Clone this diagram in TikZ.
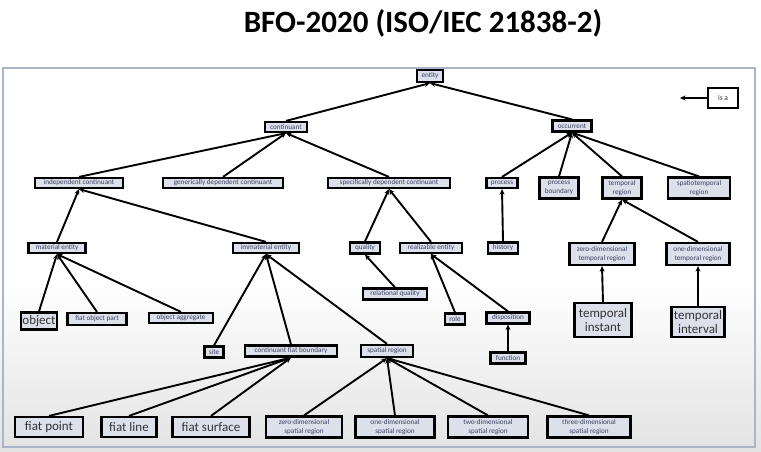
\documentclass[tikz,border=0pt]{standalone}
\usepackage{fontspec}
\setmainfont{Carlito}
\usetikzlibrary{arrows.meta}
\definecolor{boxfill}{HTML}{DCE0EB}
\definecolor{boxtext}{HTML}{3A4160}
\definecolor{framec}{HTML}{A9B5C9}
\tikzset{
  sm/.style={draw=black, line width=2.2pt, fill=boxfill, text=boxtext,
    font=\fontsize{7.2}{8.4}\selectfont, inner xsep=1pt, inner ysep=0.5pt, align=center},
  lg/.style={draw=black, line width=2.2pt, fill=boxfill, text=black!80,
    font=\fontsize{13}{14.5}\selectfont, inner xsep=1pt, inner ysep=0.5pt, align=center},
  isa/.style={draw=black, line width=1.9pt, -{Stealth[length=5.5pt,width=5pt]}},
}
\begin{document}
\begin{tikzpicture}[x=1pt,y=-1pt]
\useasboundingbox (0,0) rectangle (761,451);
\fill[white] (0,0) rectangle (761,451);
\shade[top color=white, bottom color=black!11] (0,280) rectangle (761,451);
\draw[framec, line width=1.5pt] (3,68) rectangle (755,447);
\node[font=\fontsize{31}{34}\bfseries, text=black] (title) at (423,23) {BFO-2020 (ISO/IEC 21838-2)};

% level 0
\node[sm, minimum width=26pt, minimum height=12pt] (entity) at (430,76) {entity};
% legend
\node[draw=black, line width=2.2pt, fill=white, minimum width=30pt, minimum height=20pt,
  font=\fontsize{7.5}{8.5}\selectfont, text=black!80] (legend) at (723,98) {is a};
\coordinate (legtip) at (680,98);
\draw[isa] (legend.west) -- (legtip);

% level 1
\node[sm, minimum width=42pt, minimum height=10pt] (continuant) at (286,127) {continuant};
\node[sm, minimum width=39pt, minimum height=11pt] (occurrent) at (572,126) {occurrent};

% level 2
\node[sm, minimum width=88pt, minimum height=10pt] (indep) at (79,183) {independent continuant};
\node[sm, minimum width=120pt, minimum height=10pt] (gdc) at (223,183) {generically dependent continuant};
\node[sm, minimum width=122pt, minimum height=10pt] (sdc) at (389,183) {specifically dependent continuant};
\node[sm, minimum width=31pt, minimum height=10pt] (process) at (502,183) {process};
\node[sm, minimum width=39pt, minimum height=21pt] (pbound) at (559,188) {process\\boundary};
\node[sm, minimum width=39pt, minimum height=21pt] (treg) at (622,188) {temporal\\region};
\node[sm, minimum width=62pt, minimum height=21pt] (streg) at (699,188) {spatiotemporal\\region};

% level 3
\node[sm, minimum width=57pt, minimum height=10pt] (material) at (57,248) {material entity};
\node[sm, minimum width=66pt, minimum height=10pt] (immaterial) at (266,248) {immaterial entity};
\node[sm, minimum width=30pt, minimum height=11pt] (quality) at (365,248) {quality};
\node[sm, minimum width=62pt, minimum height=10pt] (realizable) at (431,248) {realizable entity};
\node[sm, minimum width=30pt, minimum height=11pt] (history) at (503,248) {history};
\node[sm, minimum width=65pt, minimum height=22pt] (zdtr) at (602,254) {zero-dimensional\\temporal region};
\node[sm, minimum width=63pt, minimum height=22pt] (odtr) at (698,254) {one-dimensional\\temporal region};

% level 4
\node[lg, minimum width=36pt, minimum height=17pt] (object) at (39,321) {object};
\node[sm, minimum width=59pt, minimum height=12pt] (fop) at (97,319) {fiat object part};
\node[sm, minimum width=64pt, minimum height=10pt] (oagg) at (181,318) {object aggregate};
\node[sm, minimum width=64pt, minimum height=11pt] (relq) at (395,294) {relational quality};
\node[sm, minimum width=20pt, minimum height=11pt] (role) at (455,319) {role};
\node[sm, minimum width=43pt, minimum height=11pt] (disp) at (508,318) {disposition};
\node[lg, minimum width=57pt, minimum height=34pt] (tinst) at (603,320) {temporal\\instant};
\node[lg, minimum width=53pt, minimum height=30pt] (tint) at (698,322) {temporal\\interval};

% level 5
\node[sm, minimum width=19pt, minimum height=11pt] (site) at (214,352) {site};
\node[sm, minimum width=92pt, minimum height=11pt] (cfb) at (291,351) {continuant fiat boundary};
\node[sm, minimum width=52pt, minimum height=12pt] (sreg) at (387,351) {spatial region};
\node[sm, minimum width=35pt, minimum height=11pt] (function) at (508,358) {function};

% level 6
\node[lg, minimum width=68pt, minimum height=20pt] (fpoint) at (49,427) {fiat point};
\node[lg, minimum width=55pt, minimum height=20pt] (fline) at (129,427) {fiat line};
\node[lg, minimum width=77pt, minimum height=20pt] (fsurf) at (211,427) {fiat surface};
\node[sm, minimum width=76pt, minimum height=21pt] (zdsr) at (304,427) {zero-dimensional\\spatial region};
\node[sm, minimum width=79pt, minimum height=21pt] (odsr) at (395,427) {one-dimensional\\spatial region};
\node[sm, minimum width=80pt, minimum height=21pt] (twdsr) at (488,427) {two-dimensional\\spatial region};
\node[sm, minimum width=83pt, minimum height=21pt] (thdsr) at (589,427) {three-dimensional\\spatial region};

% edges
\draw[isa] (continuant.north) -- (entity.south);
\draw[isa] (occurrent.north) -- (entity.south);
\draw[isa] (indep.north) -- (continuant.south);
\draw[isa] (gdc.north) -- (continuant.south);
\draw[isa] (sdc.north) -- (continuant.south);
\draw[isa] (process.north) -- (occurrent.south);
\draw[isa] (pbound.north) -- (occurrent.south);
\draw[isa] (treg.north) -- (occurrent.south);
\draw[isa] (streg.north) -- (occurrent.south);
\draw[isa] (material.north) -- (indep.south);
\draw[isa] (immaterial.north) -- (indep.south);
\draw[isa] (quality.north) -- (sdc.south);
\draw[isa] (realizable.north) -- (sdc.south);
\draw[isa] (history.north) -- (process.south);
\draw[isa] (zdtr.north) -- (treg.south);
\draw[isa] (odtr.north) -- (treg.south);
\draw[isa] (object.north) -- (material.south);
\draw[isa] (fop.north) -- (material.south);
\draw[isa] (oagg.north) -- (material.south);
\draw[isa] (relq.north) -- (quality.south);
\draw[isa] (role.north) -- (realizable.south);
\draw[isa] (disp.north) -- (realizable.south);
\draw[isa] (tinst.north) -- (zdtr.south);
\draw[isa] (tint.north) -- (odtr.south);
\draw[isa] (site.north) -- (immaterial.south);
\draw[isa] (cfb.north) -- (immaterial.south);
\draw[isa] (sreg.north) -- (immaterial.south);
\draw[isa] (function.north) -- (disp.south);
\draw[isa] (fpoint.north) -- (cfb.south);
\draw[isa] (fline.north) -- (cfb.south);
\draw[isa] (fsurf.north) -- (cfb.south);
\draw[isa] (zdsr.north) -- (sreg.south);
\draw[isa] (odsr.north) -- (sreg.south);
\draw[isa] (twdsr.north) -- (sreg.south);
\draw[isa] (thdsr.north) -- (sreg.south);
\end{tikzpicture}
\end{document}
